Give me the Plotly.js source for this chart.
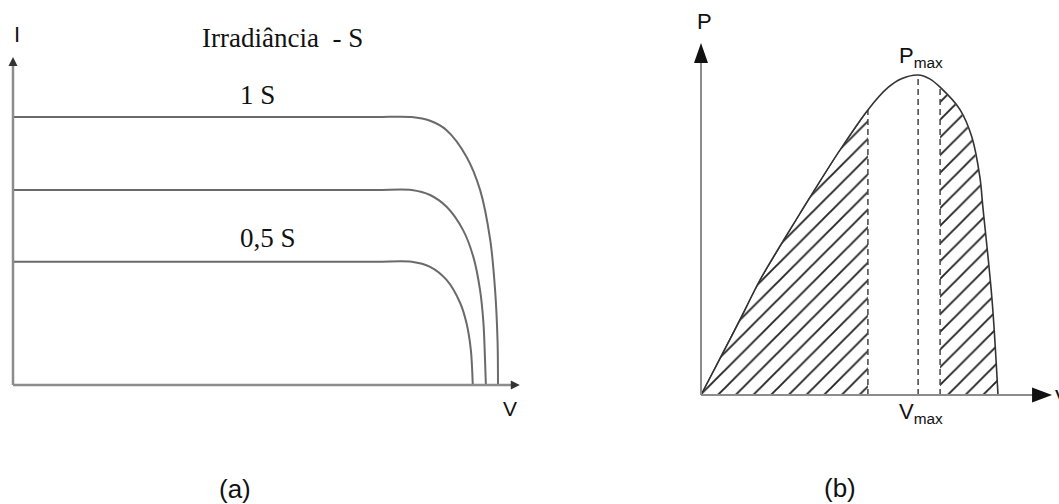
<!DOCTYPE html>
<html>
<head>
<meta charset="utf-8">
<script src="https://cdn.plot.ly/plotly-3.0.1.min.js"></script>
<style>
  html, body { margin: 0; padding: 0; background: #fff; }
  #chart { width: 1059px; height: 504px; }
</style>
</head>
<body>
<div id="chart"></div>
<script>
// ---- (a) I–V characteristics at different irradiance levels (normalised V and I) ----
const ivTopV = [0, 0.3, 0.6, 0.75, 0.822, 0.860, 0.894, 0.935, 0.963, 0.984, 0.994, 0.999, 1.0];
const ivTopI = [1.0, 1.0, 1.0, 1.0, 1.0, 0.986, 0.951, 0.852, 0.728, 0.541, 0.354, 0.168, 0];
const ivMidV = [0, 0.3, 0.6, 0.75, 0.822, 0.860, 0.894, 0.928, 0.949, 0.963, 0.970, 0.973, 0.975];
const ivMidI = [0.728, 0.728, 0.728, 0.728, 0.728, 0.709, 0.665, 0.578, 0.479, 0.354, 0.231, 0.106, 0];
const ivLowV = [0, 0.3, 0.6, 0.75, 0.822, 0.860, 0.894, 0.922, 0.935, 0.944, 0.948];
const ivLowI = [0.460, 0.460, 0.460, 0.460, 0.460, 0.441, 0.392, 0.306, 0.231, 0.131, 0];
const ivAxisTip = { v: 1.045, i: 1.224 };

// ---- (b) P–V characteristic (normalised V and P) ----
const pvV = [0, 0.131, 0.199, 0.357, 0.461, 0.562, 0.630, 0.677, 0.731, 0.770, 0.805, 0.872, 0.912, 0.939, 0.949, 0.980, 1.0];
const pvP = [0, 0.234, 0.360, 0.603, 0.756, 0.891, 0.961, 0.989, 1.0, 0.988, 0.962, 0.892, 0.806, 0.681, 0.588, 0.297, 0];
const dashV = [0.562, 0.731, 0.805];      // left band edge, V_max, right band edge
const dashP = [0.891, 1.0, 0.962];
const pvAxisTip = { v: 1.182, p: 1.1 };

// text
const ivTitle = 'Irradiância  - S';
const ivLabels = ['1 S', '0,5 S'];
const panelTags = ['(a)', '(b)'];

const W = 1059, H = 504;
const px = x => x / W;
const py = y => 1 - y / H;

const ivLine = { color: '#6a6a6a', width: 2, shape: 'spline', smoothing: 0.9 };
const traces = [];

[[ivTopV, ivTopI], [ivMidV, ivMidI], [ivLowV, ivLowI]].forEach(([v, i]) => {
  traces.push({ x: v, y: i, xaxis: 'x', yaxis: 'y', mode: 'lines', line: ivLine, hoverinfo: 'skip' });
});

// hatched bands either side of the MPP region
const hatch = { shape: '/', size: 12.5, solidity: 0.15, fgcolor: '#222', bgcolor: '#ffffff' };
const leftV = [], leftP = [], rightV = [], rightP = [];
pvV.forEach((v, k) => {
  if (v <= dashV[0]) { leftV.push(v); leftP.push(pvP[k]); }
  if (v >= dashV[2]) { rightV.push(v); rightP.push(pvP[k]); }
});
traces.push({ x: leftV, y: leftP, xaxis: 'x2', yaxis: 'y2', mode: 'lines', fill: 'tozeroy',
  fillcolor: 'rgba(0,0,0,0)', fillpattern: hatch, line: { color: '#333', width: 1 }, hoverinfo: 'skip' });
traces.push({ x: rightV, y: rightP, xaxis: 'x2', yaxis: 'y2', mode: 'lines', fill: 'tozeroy',
  fillcolor: 'rgba(0,0,0,0)', fillpattern: hatch, line: { color: 'rgba(0,0,0,0)', width: 0 }, hoverinfo: 'skip' });

// dashed verticals
dashV.forEach((v, k) => {
  traces.push({ x: [v, v], y: [0, dashP[k]], xaxis: 'x2', yaxis: 'y2', mode: 'lines',
    line: { color: '#444', width: 1.5, dash: '6px,4px' }, hoverinfo: 'skip' });
});

// P–V curve
traces.push({ x: pvV, y: pvP, xaxis: 'x2', yaxis: 'y2', mode: 'lines',
  line: { color: '#333', width: 1.6, shape: 'spline', smoothing: 1 }, hoverinfo: 'skip' });

// axes drawn as lines with arrowheads
const shapes = [
  { type: 'line', xref: 'x', yref: 'y', x0: 0, y0: 0, x1: ivAxisTip.v - 0.01, y1: 0, line: { color: '#8c8c8c', width: 2.5 } },
  { type: 'line', xref: 'x', yref: 'y', x0: 0, y0: 0, x1: 0, y1: ivAxisTip.i - 0.02, line: { color: '#8c8c8c', width: 2.5 } },
  { type: 'path', xref: 'x', yref: 'y', xsizemode: 'pixel', ysizemode: 'pixel', xanchor: ivAxisTip.v, yanchor: 0,
    path: 'M0,0 L-9,4.5 L-9,-4.5 Z', fillcolor: '#333', line: { width: 0 } },
  { type: 'path', xref: 'x', yref: 'y', xsizemode: 'pixel', ysizemode: 'pixel', xanchor: 0, yanchor: ivAxisTip.i,
    path: 'M0,0 L-4.5,-9 L4.5,-9 Z', fillcolor: '#333', line: { width: 0 } },

  { type: 'line', xref: 'x2', yref: 'y2', x0: 0, y0: 0, x1: pvAxisTip.v - 0.05, y1: 0, line: { color: '#8c8c8c', width: 2 } },
  { type: 'line', xref: 'x2', yref: 'y2', x0: 0, y0: 0, x1: 0, y1: pvAxisTip.p - 0.05, line: { color: '#8c8c8c', width: 2 } },
  { type: 'path', xref: 'x2', yref: 'y2', xsizemode: 'pixel', ysizemode: 'pixel', xanchor: pvAxisTip.v, yanchor: 0,
    path: 'M0,0 L-20,7.5 L-20,-7.5 Z', fillcolor: '#111', line: { width: 0 } },
  { type: 'path', xref: 'x2', yref: 'y2', xsizemode: 'pixel', ysizemode: 'pixel', xanchor: 0, yanchor: pvAxisTip.p,
    path: 'M0,0 L-7,-20 L7,-20 Z', fillcolor: '#111', line: { width: 0 } }
];

const sans = 'Liberation Sans, Arial, sans-serif';
const serif = 'Liberation Serif, Times New Roman, serif';
const ann = (text, x, y, size, family, extra) => Object.assign({
  text, xref: 'paper', yref: 'paper', x: px(x), y: py(y), showarrow: false,
  xanchor: 'center', yanchor: 'middle', font: { family, size, color: '#111' }
}, extra || {});

const annotations = [
  ann(ivTitle, 282, 38, 27, serif),
  ann(ivLabels[0], 257, 95, 27, serif),
  ann(ivLabels[1], 268, 238, 27, serif),
  ann('I', 17, 35, 22, sans),
  ann('V', 510, 408, 21, sans),
  ann(panelTags[0], 235, 489, 26, sans),

  ann('P', 704, 22, 22, sans),
  ann('P<sub>max</sub>', 921, 57, 22, sans),
  ann('V<sub>max</sub>', 921, 413, 22, sans),
  ann('V', 1053, 397, 22, sans, { xanchor: 'left' }),
  ann(panelTags[1], 840, 488, 26, sans)
];

const layout = {
  width: W, height: H,
  margin: { l: 0, r: 0, t: 0, b: 0 },
  paper_bgcolor: '#ffffff', plot_bgcolor: 'rgba(0,0,0,0)',
  showlegend: false,
  xaxis: { domain: [0, 0.5], range: [-13 / 485, 516.5 / 485], visible: false, fixedrange: true },
  yaxis: { domain: [0, 1], range: [-119 / 268, 385 / 268], visible: false, fixedrange: true },
  xaxis2: { domain: [0.5, 1], range: [-171.5 / 297, 358 / 297], visible: false, anchor: 'y2', fixedrange: true },
  yaxis2: { domain: [0, 1], range: [-109 / 320, 395 / 320], visible: false, anchor: 'x2', fixedrange: true },
  shapes, annotations
};

Plotly.newPlot('chart', traces, layout, { displayModeBar: false, staticPlot: true });
</script>
</body>
</html>
